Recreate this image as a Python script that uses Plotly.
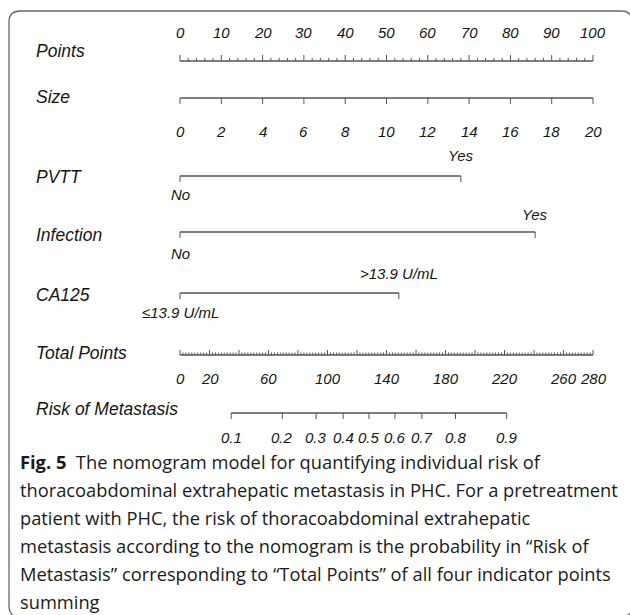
import plotly.graph_objects as go

# ---- nomogram data -------------------------------------------------------
points_major = list(range(0, 101, 10))
points_minor = list(range(0, 101, 2))

size_ticks = list(range(0, 21, 2))
size_max = 20
size_max_points = 100

pvtt_levels = ["No", "Yes"]
pvtt_points = [0, 68]

infection_levels = ["No", "Yes"]
infection_points = [0, 86]

ca125_levels = ["≤13.9 U/mL", ">13.9 U/mL"]
ca125_points = [0, 53]

total_max = 280
total_labels = [0, 20, 60, 100, 140, 180, 220, 260, 280]
total_major = list(range(0, 281, 20))
total_minor = list(range(0, 281, 2))

risk_labels = ["0.1", "0.2", "0.3", "0.4", "0.5", "0.6", "0.7", "0.8", "0.9"]
risk_total_points = [34.7, 69.4, 92.3, 110.6, 128.1, 145.7, 164.0, 186.8, 221.5]

caption_lines = [
    "<b>Fig. 5</b>  The nomogram model for quantifying individual risk of",
    "thoracoabdominal extrahepatic metastasis in PHC. For a pretreatment",
    "patient with PHC, the risk of thoracoabdominal extrahepatic",
    "metastasis according to the nomogram is the probability in \u201cRisk of",
    "Metastasis\u201d corresponding to \u201cTotal Points\u201d of all four indicator points",
    "summing",
]

# ---- styling / layout ----------------------------------------------------
W, H = 630, 615
X0_PX, X100_PX = 180, 593          # pixel span of the 0..100 points scale
PX_PER_PT = (X100_PX - X0_PX) / 100.0
LINE_C = "#555555"
TEXT_C = "#151515"
AX_FONT = "Arial"
CAP_FONT = "Open Sans"
LW = 1.3

rows = {
    "Points": dict(label_y=51, line_y=61, tick_y=32),
    "Size": dict(label_y=97, line_y=98, tick_y=131),
    "PVTT": dict(label_y=177, line_y=176, hi_y=155, lo_y=194),
    "Infection": dict(label_y=235, line_y=232, hi_y=214, lo_y=253),
    "CA125": dict(label_y=295, line_y=293, hi_y=273, lo_y=312),
    "Total Points": dict(label_y=353, line_y=355, tick_y=378),
    "Risk of Metastasis": dict(label_y=409, line_y=413, tick_y=437),
}

fig = go.Figure()
annotations = []


def seg_trace(xs_pairs, ys_pairs, width=LW):
    xs, ys = [], []
    for (xa, xb), (ya, yb) in zip(xs_pairs, ys_pairs):
        xs += [xa, xb, None]
        ys += [ya, yb, None]
    fig.add_trace(go.Scatter(x=xs, y=ys, mode="lines",
                             line=dict(color=LINE_C, width=width),
                             hoverinfo="skip", showlegend=False))


def tick_labels(xs, y, labels, size=15):
    for xv, lab in zip(xs, labels):
        annotations.append(dict(
            x=xv, y=y, xref="x", yref="y", text=lab, showarrow=False,
            xanchor="center", yanchor="middle",
            font=dict(family=AX_FONT, size=size, color=TEXT_C, style="italic")))


def scale_axis(values, major, minor, line_y, direction, major_len, minor_len):
    """Horizontal axis line with ticks; direction -1 = ticks up, +1 = down."""
    lo, hi = min(values), max(values)
    seg_trace([(lo, hi)], [(line_y, line_y)])
    xs = [(v, v) for v in major]
    ys = [(line_y, line_y + direction * major_len) for _ in major]
    minor_only = [v for v in minor if v not in major]
    xs += [(v, v) for v in minor_only]
    ys += [(line_y, line_y + direction * minor_len) for _ in minor_only]
    seg_trace(xs, ys, width=1.0)


# Points
r = rows["Points"]
scale_axis(points_minor, points_major, points_minor, r["line_y"], -1, 6, 3)
tick_labels(points_major, r["tick_y"], [str(v) for v in points_major])

# Size (0..20 mapped linearly onto the points scale)
r = rows["Size"]
size_pts = [s / size_max * size_max_points for s in size_ticks]
scale_axis(size_pts, size_pts, [], r["line_y"], 1, 6, 0)
tick_labels(size_pts, r["tick_y"], [str(s) for s in size_ticks])

# categorical predictors
for name, levels, pts in [("PVTT", pvtt_levels, pvtt_points),
                          ("Infection", infection_levels, infection_points),
                          ("CA125", ca125_levels, ca125_points)]:
    r = rows[name]
    scale_axis(pts, pts, [], r["line_y"], 1, 6, 0)
    tick_labels([pts[0]], r["lo_y"], [levels[0]])
    tick_labels([pts[1]], r["hi_y"], [levels[1]])

# Total points (0..280 mapped onto the points scale)
r = rows["Total Points"]
to_pts = lambda t: t / total_max * 100.0
scale_axis([to_pts(t) for t in total_minor], [to_pts(t) for t in total_major],
           [to_pts(t) for t in total_minor], r["line_y"], -1, 5, 2.5)
tick_labels([to_pts(t) for t in total_labels], r["tick_y"], [str(t) for t in total_labels])

# Risk of metastasis
r = rows["Risk of Metastasis"]
risk_pts = [to_pts(t) for t in risk_total_points]
scale_axis(risk_pts, risk_pts, [], r["line_y"], 1, 6, 0)
tick_labels(risk_pts, r["tick_y"], risk_labels)

# row names
for name, r in rows.items():
    annotations.append(dict(
        x=34, y=r["label_y"], xref="x2", yref="y", text=name, showarrow=False,
        xanchor="left", yanchor="middle",
        font=dict(family=AX_FONT, size=17.5, color=TEXT_C, style="italic")))

# caption
cap_y0, cap_dy = 461, 28
for i, line in enumerate(caption_lines):
    annotations.append(dict(
        x=18, y=cap_y0 + i * cap_dy, xref="x2", yref="y", text=line,
        showarrow=False, xanchor="left", yanchor="middle",
        font=dict(family=CAP_FONT, size=18.3, color="#1a1a1a")))

# rounded frame (right and bottom edges run just past the page)
L, T, R, B, rad = 9, 11, 632, 617, 11
frame = (f"M {L+rad},{T} L {R-rad},{T} Q {R},{T} {R},{T+rad} "
         f"L {R},{B-rad} Q {R},{B} {R-rad},{B} L {L+rad},{B} "
         f"Q {L},{B} {L},{B-rad} L {L},{T+rad} Q {L},{T} {L+rad},{T} Z")

fig.update_layout(
    width=W, height=H,
    margin=dict(l=0, r=0, t=0, b=0),
    paper_bgcolor="white", plot_bgcolor="white",
    xaxis=dict(range=[-X0_PX / PX_PER_PT, (W - X0_PX) / PX_PER_PT],
               visible=False, fixedrange=True),
    xaxis2=dict(range=[0, W], overlaying="x", visible=False, fixedrange=True),
    yaxis=dict(range=[H, 0], visible=False, fixedrange=True),
    shapes=[dict(type="path", path=frame, xref="x2", yref="y",
                 line=dict(color="#6a6a6a", width=1.3))],
    annotations=annotations,
)

fig.write_html("out.html", config={"displayModeBar": False})
